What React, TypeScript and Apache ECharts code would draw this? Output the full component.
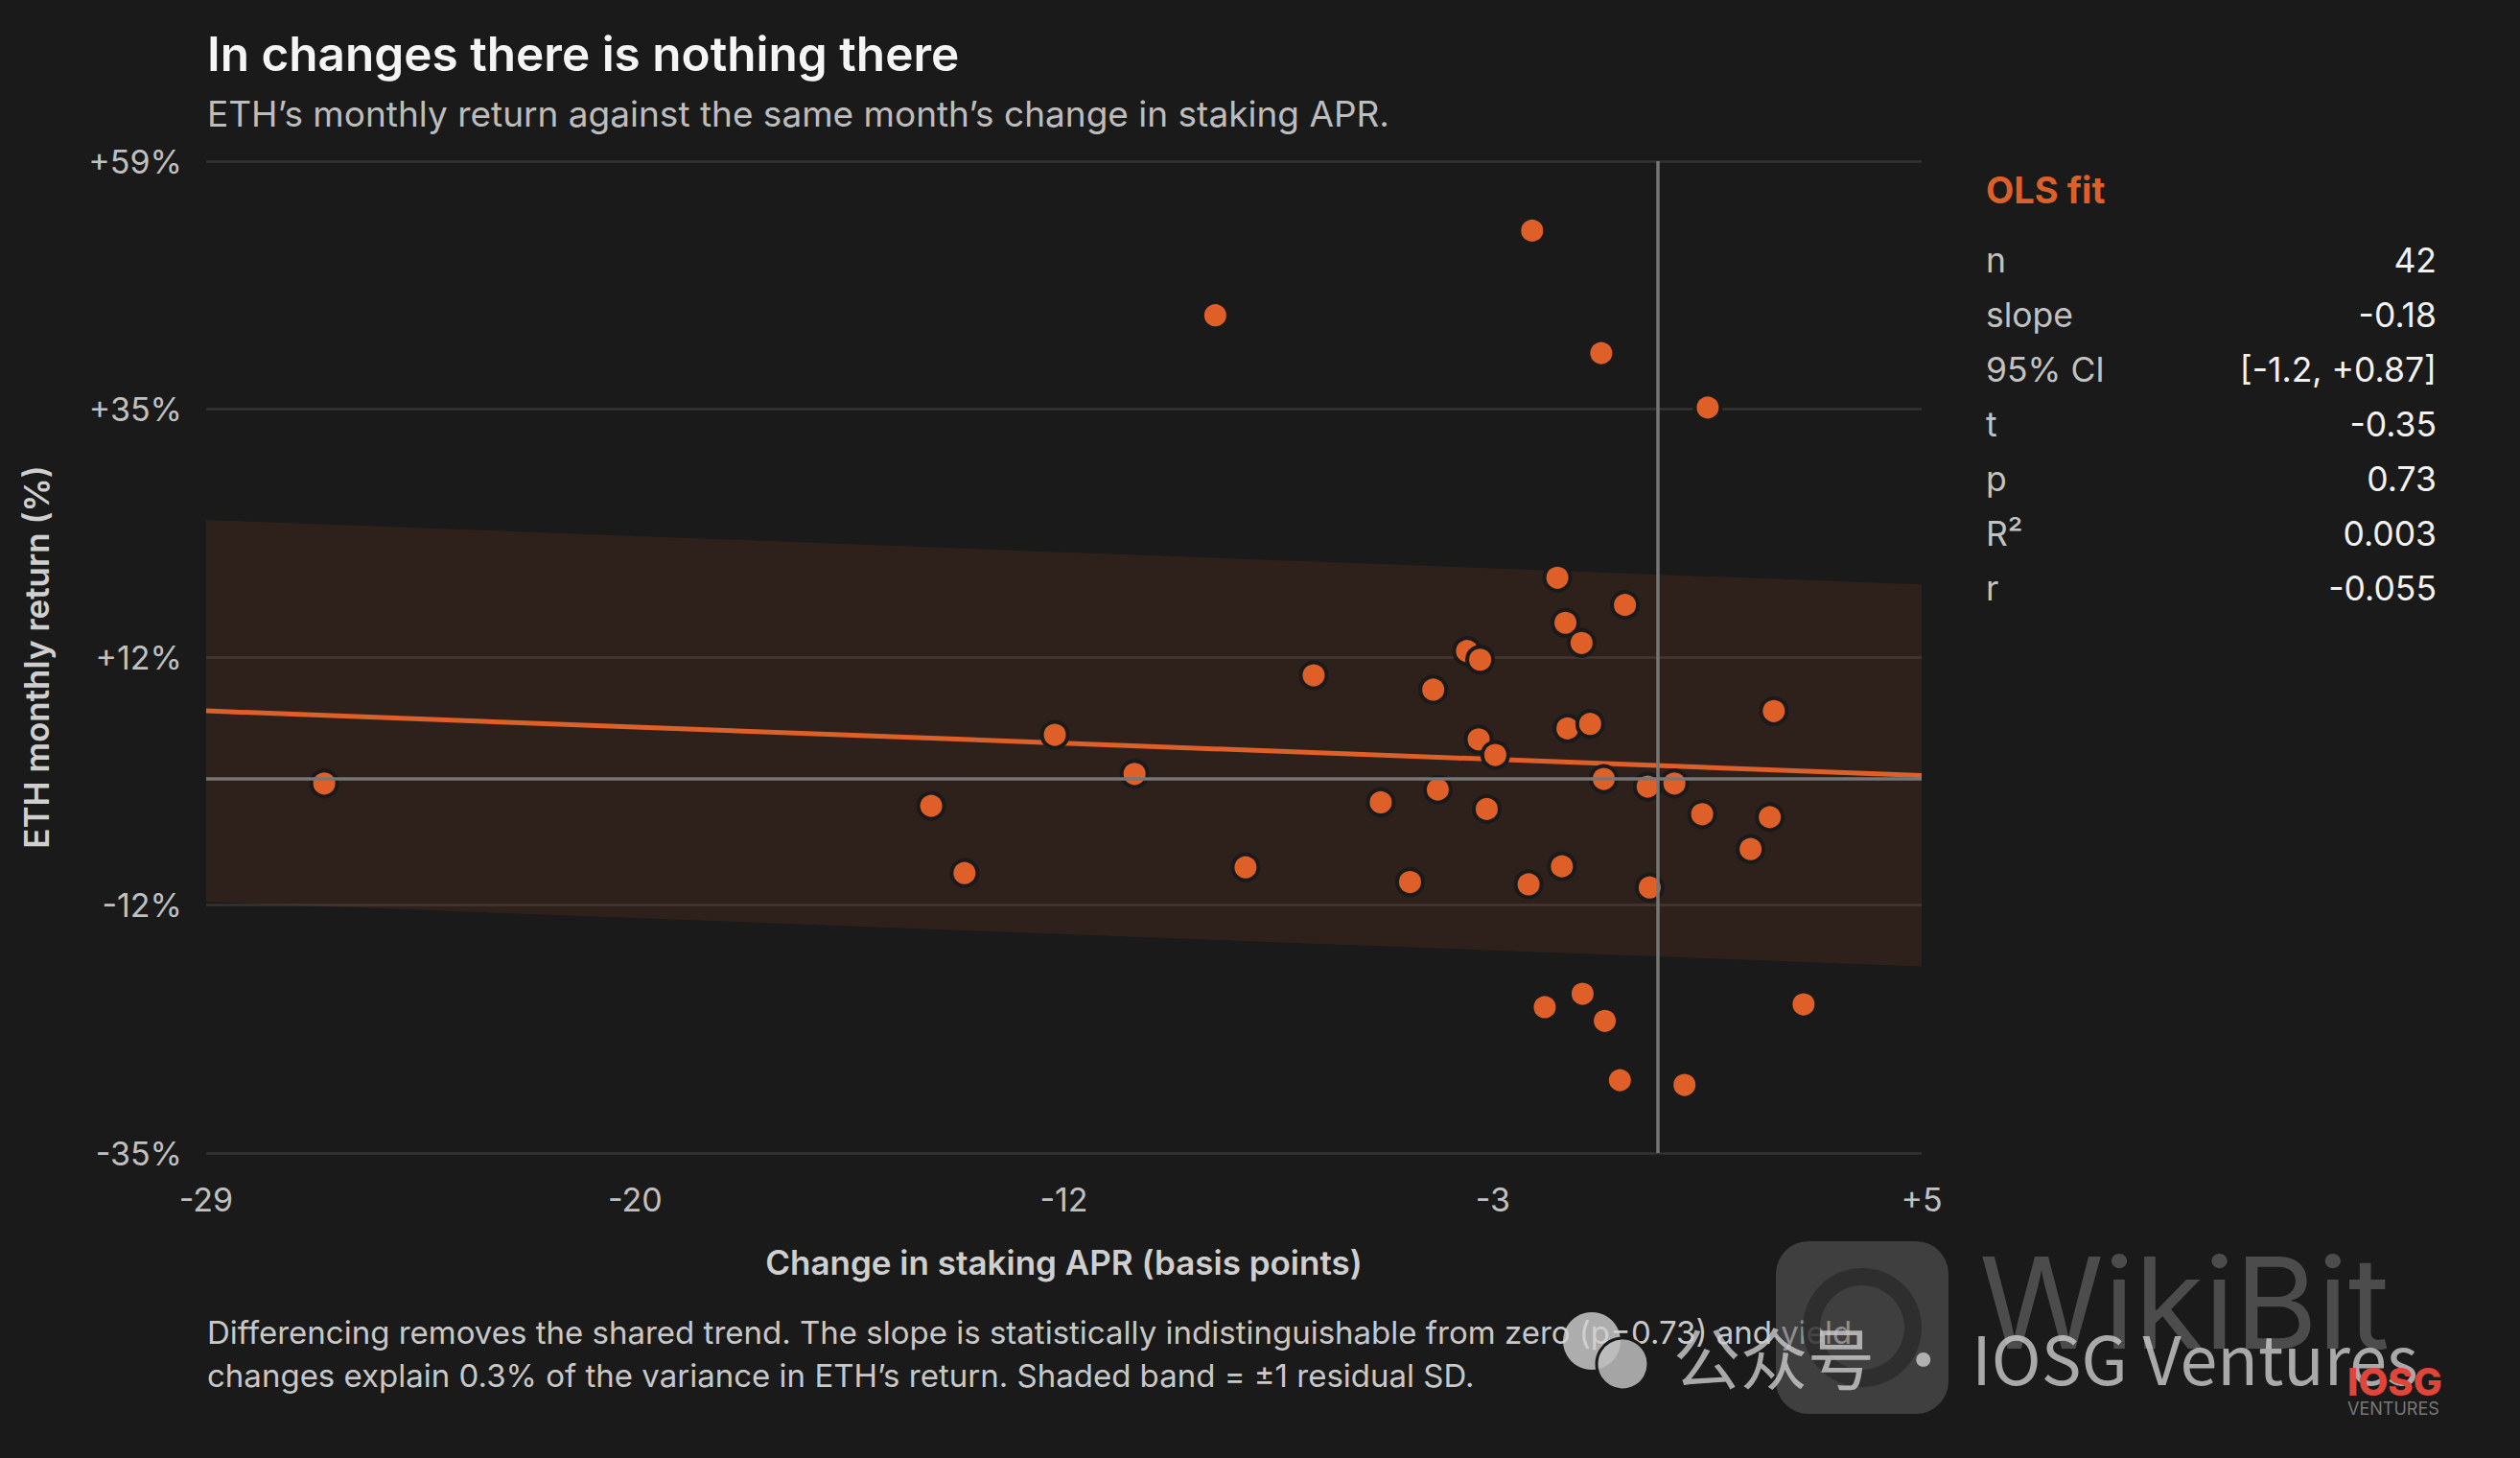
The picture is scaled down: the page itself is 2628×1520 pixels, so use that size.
import React, { useEffect, useRef } from 'react';
import * as echarts from 'echarts';

// Change in staking APR (bp) and ETH's monthly return (%) for the same month
const X_VALUES = [
  -26.43, -14.4, -13.74, -11.95, -10.37, -8.77, -8.17, -6.82, -5.49, -4.91, -4.45, -4.36, -3.78, -3.52,
  -3.55, -3.39, -3.22, -2.56, -2.49, -2.24, -1.99, -1.9, -1.83, -1.79, -1.51, -1.49, -1.34, -1.12,
  -1.07, -1.05, -0.75, -0.65, -0.2, -0.16, 0.33, 0.53, 0.88, 0.99, 1.84, 2.22, 2.3, 2.89,
];
const Y_VALUES = [
  -0.45, -2.57, -8.94, 4.16, 0.46, 43.92, -8.4, 9.8, -2.24, -9.79, 8.44, -1.03, 12.1, 11.28,
  3.73, -2.87, 2.25, -10.01, 51.95, -21.65, 19.05, -8.3, 14.78, 4.77, 12.87, -20.38, 5.19, 40.34,
  -0.02, -22.95, -28.57, 16.47, -0.75, -10.31, -0.45, -29.02, -3.36, 35.18, -6.67, -3.64, 6.41, -21.38,
];

const X_TICKS = [-28.77, -20.27, -11.77, -3.27, 5.23];
const Y_TICKS = [-35.47, -11.97, 11.53, 35.03, 58.53];

const FIT_INTERCEPT = 1.25;
const FIT_SLOPE = -0.18;
const RESIDUAL_SD = 18.1;

const STAT_LABELS = ['n', 'slope', '95% CI', 't', 'p', 'R²', 'r'];
const STAT_VALUES = ['42', '-0.18', '[-1.2, +0.87]', '-0.35', '0.73', '0.003', '-0.055'];

const FOOTER_LINES = [
  'Differencing removes the shared trend. The slope is statistically indistinguishable from zero (p=0.73) and yield',
  'changes explain 0.3% of the variance in ETH’s return. Shaded band = ±1 residual SD.',
];

const BG = '#1a1a1a';
const ORANGE = '#de5f28';
const FONT = 'Inter, "Noto Sans", sans-serif';

const signed = (v: number, suffix = '') => {
  const r = Math.round(v);
  return (r > 0 ? '+' + r : String(r)) + suffix;
};

const App = () => {
  const chartRef = useRef<HTMLDivElement>(null);

  useEffect(() => {
    if (!chartRef.current) return;
    document.body.style.margin = '0';
    document.body.style.background = BG;

    const chart = echarts.init(chartRef.current, null, { renderer: 'svg' });

    const xMin = X_TICKS[0];
    const xMax = X_TICKS[X_TICKS.length - 1];
    const fit = (x: number) => FIT_INTERCEPT + FIT_SLOPE * x;

    const points = X_VALUES.map((x, i) => [x, Y_VALUES[i]]);

    const statTexts: any[] = [];
    STAT_LABELS.forEach((label, i) => {
      const y = 271 + i * 57;
      statTexts.push({
        type: 'text',
        x: 2071,
        y,
        style: { text: label, fill: '#c2c2c2', fontSize: 35.5, fontFamily: FONT, verticalAlign: 'middle' },
      });
      statTexts.push({
        type: 'text',
        x: 2541,
        y,
        style: {
          text: STAT_VALUES[i],
          fill: '#f2f2f2',
          fontSize: 35.5,
          fontFamily: FONT,
          align: 'right',
          verticalAlign: 'middle',
        },
      });
    });

    chart.setOption({
      animation: false,
      backgroundColor: BG,
      grid: { left: 215, top: 168, width: 1789, height: 1034, outerBoundsMode: 'none' },
      xAxis: {
        type: 'value',
        min: xMin,
        max: xMax,
        axisLine: { show: false },
        axisTick: { show: false, customValues: X_TICKS },
        splitLine: { show: false },
        axisLabel: {
          customValues: X_TICKS,
          formatter: (v: number) => signed(v),
          color: '#c0c0c0',
          fontSize: 34,
          fontFamily: FONT,
          margin: 31,
        },
        name: 'Change in staking APR (basis points)',
        nameLocation: 'middle',
        nameGap: 96,
        nameTextStyle: { color: '#cfcfcf', fontSize: 35, fontWeight: 600, fontFamily: FONT },
      },
      yAxis: {
        type: 'value',
        min: Y_TICKS[0],
        max: Y_TICKS[Y_TICKS.length - 1],
        axisLine: { show: false },
        axisTick: { show: false, customValues: Y_TICKS },
        splitLine: { show: true, lineStyle: { color: '#333333', width: 2.5 } },
        axisLabel: {
          customValues: Y_TICKS,
          formatter: (v: number) => signed(v, '%'),
          color: '#c0c0c0',
          fontSize: 34,
          fontFamily: FONT,
          margin: 25,
        },
        name: 'ETH monthly return (%)',
        nameLocation: 'middle',
        nameGap: 160,
        nameTextStyle: { color: '#cfcfcf', fontSize: 35, fontWeight: 600, fontFamily: FONT },
      },
      graphic: [
        {
          type: 'text',
          x: 216,
          y: 56,
          style: {
            text: 'In changes there is nothing there',
            fill: '#f5f5f5',
            fontSize: 49.5,
            fontWeight: 600,
            fontFamily: FONT,
            verticalAlign: 'middle',
          },
        },
        {
          type: 'text',
          x: 216,
          y: 118,
          style: {
            text: 'ETH’s monthly return against the same month’s change in staking APR.',
            fill: '#bdbdbd',
            fontSize: 37,
            fontFamily: FONT,
            verticalAlign: 'middle',
          },
        },
        {
          type: 'text',
          x: 2071,
          y: 198,
          style: {
            text: 'OLS fit',
            fill: ORANGE,
            fontSize: 38,
            fontWeight: 700,
            fontFamily: FONT,
            verticalAlign: 'middle',
          },
        },
        ...statTexts,
        ...FOOTER_LINES.map((line, i) => ({
          type: 'text',
          x: 216,
          y: 1389 + i * 45,
          style: { text: line, fill: '#c8c8c8', fontSize: 33, fontFamily: FONT, verticalAlign: 'middle' },
        })),
        // watermark overlay
        {
          type: 'rect',
          shape: { x: 1852, y: 1294, width: 180, height: 180, r: 34 },
          style: { fill: 'rgba(95,95,95,0.55)' },
          z: 50,
        },
        {
          type: 'ring',
          shape: { cx: 1942, cy: 1384, r: 62, r0: 44 },
          style: { fill: 'rgba(40,40,40,0.7)' },
          z: 51,
        },
        {
          type: 'text',
          x: 2064,
          y: 1358,
          style: {
            text: 'WikiBit',
            fill: 'rgba(110,110,110,0.6)',
            fontSize: 132,
            fontWeight: 400,
            fontFamily: FONT,
            verticalAlign: 'middle',
          },
          z: 50,
        },
        {
          type: 'circle',
          shape: { cx: 1660, cy: 1398, r: 30 },
          style: { fill: 'rgba(210,210,210,0.8)' },
          z: 52,
        },
        {
          type: 'circle',
          shape: { cx: 1692, cy: 1422, r: 27 },
          style: { fill: 'rgba(190,190,190,0.85)', stroke: BG, lineWidth: 3 },
          z: 53,
        },
        {
          type: 'text',
          x: 1745,
          y: 1413,
          style: {
            text: '公众号 · IOSG Ventures',
            fill: 'rgba(205,205,205,0.8)',
            fontSize: 70,
            fontFamily: '"Noto Sans CJK SC", Inter, sans-serif',
            verticalAlign: 'middle',
          },
          z: 54,
        },
        {
          type: 'text',
          x: 2448,
          y: 1440,
          style: {
            text: 'IOSG',
            fill: '#e0453a',
            fontSize: 40,
            fontWeight: 800,
            fontFamily: FONT,
            verticalAlign: 'middle',
          },
          z: 55,
        },
        {
          type: 'text',
          x: 2448,
          y: 1468,
          style: {
            text: 'VENTURES',
            fill: '#777777',
            fontSize: 18,
            fontFamily: FONT,
            verticalAlign: 'middle',
          },
          z: 55,
        },
      ],
      series: [
        {
          name: 'residual band',
          type: 'custom',
          z: 1,
          silent: true,
          data: [[xMin, xMax]],
          renderItem: (_params: any, api: any) => {
            const x0 = api.value(0);
            const x1 = api.value(1);
            const pts = [
              api.coord([x0, fit(x0) + RESIDUAL_SD]),
              api.coord([x1, fit(x1) + RESIDUAL_SD]),
              api.coord([x1, fit(x1) - RESIDUAL_SD]),
              api.coord([x0, fit(x0) - RESIDUAL_SD]),
            ];
            return {
              type: 'polygon',
              shape: { points: pts },
              style: { fill: 'rgba(224,98,40,0.1)' },
            };
          },
        },
        {
          name: 'zero',
          type: 'scatter',
          z: 2,
          silent: true,
          data: [],
          markLine: {
            silent: true,
            symbol: 'none',
            label: { show: false },
            lineStyle: { color: '#767676', width: 3.5, type: 'solid' },
            data: [{ xAxis: 0 }, { yAxis: 0 }],
          },
        },
        {
          name: 'OLS fit',
          type: 'line',
          z: 3,
          silent: true,
          showSymbol: false,
          lineStyle: { color: ORANGE, width: 5 },
          data: [
            [xMin, fit(xMin)],
            [xMax, fit(xMax)],
          ],
        },
        {
          name: 'months',
          type: 'scatter',
          z: 4,
          symbolSize: 27,
          itemStyle: { color: ORANGE, borderColor: BG, borderWidth: 4, opacity: 1 },
          data: points,
        },
      ],
    });

    return () => {
      chart.dispose();
    };
  }, []);

  return <div ref={chartRef} style={{ width: 2628, height: 1520 }}></div>;
};

export default App;
